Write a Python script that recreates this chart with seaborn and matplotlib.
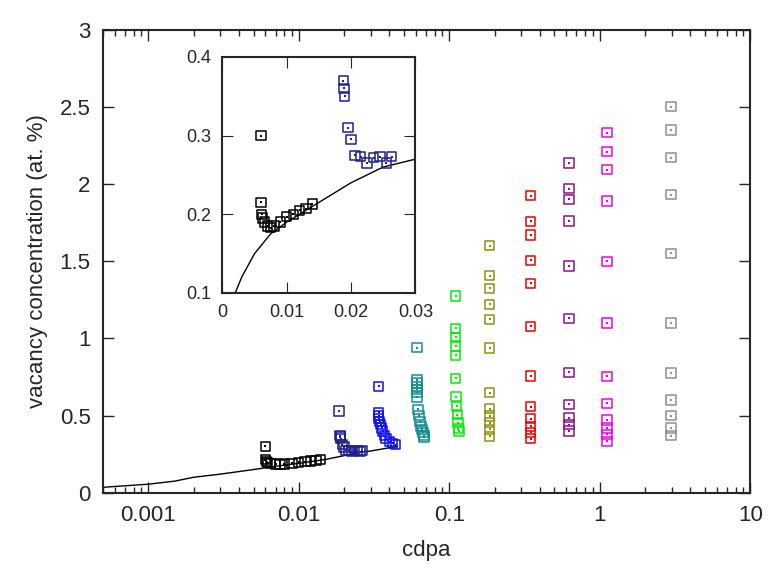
import matplotlib
matplotlib.use("Agg")
import matplotlib.pyplot as plt
import seaborn as sns
import numpy as np
import pandas as pd
from matplotlib.ticker import LogLocator, NullFormatter

sns.set_style("ticks")
plt.rcParams['font.family'] = ['Liberation Sans', 'DejaVu Sans']

# black group
black_x = [0.0060, 0.0060, 0.0061, 0.0062, 0.0065, 0.0070, 0.0075, 0.0080, 0.0090, 0.0100, 0.0110, 0.0120, 0.0130, 0.0140]
black_y = [0.300, 0.215, 0.200, 0.195, 0.190, 0.185, 0.183, 0.185, 0.190, 0.197, 0.200, 0.205, 0.207, 0.213]
# navy group
navy_x = [0.0185, 0.0188, 0.0189, 0.0190, 0.0195, 0.0200, 0.0206, 0.0215, 0.0225, 0.0235, 0.0245, 0.0255, 0.0263]
navy_y = [0.530, 0.370, 0.360, 0.350, 0.310, 0.295, 0.275, 0.273, 0.265, 0.272, 0.273, 0.265, 0.273]
# later groups
blue_x = [0.034, 0.034, 0.034, 0.034, 0.0345, 0.035, 0.0355, 0.036, 0.037, 0.038, 0.040, 0.042, 0.044]
blue_y = [0.69, 0.52, 0.50, 0.48, 0.46, 0.44, 0.42, 0.40, 0.37, 0.35, 0.33, 0.32, 0.31]
teal_x = [0.061, 0.061, 0.061, 0.061, 0.061, 0.061, 0.061, 0.062, 0.063, 0.064, 0.065, 0.066, 0.067, 0.068, 0.068]
teal_y = [0.94, 0.73, 0.71, 0.69, 0.67, 0.65, 0.62, 0.54, 0.50, 0.46, 0.43, 0.41, 0.39, 0.37, 0.36]
green_x = [0.110, 0.110, 0.110, 0.110, 0.110, 0.110, 0.111, 0.112, 0.113, 0.114, 0.115, 0.116]
green_y = [1.275, 1.065, 1.006, 0.95, 0.89, 0.742, 0.623, 0.56, 0.506, 0.454, 0.415, 0.40]
olive_x = [0.186] * 12
olive_y = [1.60, 1.405, 1.325, 1.22, 1.123, 0.937, 0.649, 0.545, 0.496, 0.454, 0.41, 0.366]
red_x = [0.348] * 12
red_y = [1.924, 1.758, 1.669, 1.506, 1.357, 1.078, 0.755, 0.558, 0.48, 0.43, 0.39, 0.35]
purple_x = [0.625] * 11
purple_y = [2.136, 1.97, 1.90, 1.76, 1.468, 1.13, 0.779, 0.573, 0.487, 0.44, 0.40]
magenta_x = [1.12] * 12
magenta_y = [2.333, 2.21, 2.093, 1.89, 1.50, 1.10, 0.753, 0.578, 0.47, 0.42, 0.377, 0.333]
grey_x = [2.98] * 11
grey_y = [2.50, 2.35, 2.17, 1.93, 1.55, 1.10, 0.775, 0.60, 0.50, 0.42, 0.37]

# model curve
curve_x = [0.0005, 0.001, 0.0015, 0.002, 0.003, 0.005, 0.0075, 0.01, 0.015, 0.02, 0.025, 0.03, 0.045]
curve_y = [0.035, 0.055, 0.075, 0.10, 0.12, 0.15, 0.175, 0.19, 0.215, 0.24, 0.26, 0.27, 0.30]

groups = [
    (black_x, black_y, "black"), (navy_x, navy_y, "#1f1f8f"), (blue_x, blue_y, "#1010ee"),
    (teal_x, teal_y, "#109090"), (green_x, green_y, "#00ee00"), (olive_x, olive_y, "#909010"),
    (red_x, red_y, "#ee0000"), (purple_x, purple_y, "#901090"), (magenta_x, magenta_y, "#ee00ee"),
    (grey_x, grey_y, "#909090"),
]

fig = plt.figure(figsize=(7.75, 5.81), dpi=100)
ax = fig.add_axes([0.133, 0.152, 0.835, 0.797])

def draw(a, gs, curve_df):
    sns.lineplot(data=curve_df, x="x", y="y", ax=a, color="black", lw=1.0, sort=False)
    for gx, gy, col in gs:
        df = pd.DataFrame({"x": gx, "y": gy})
        sns.scatterplot(data=df, x="x", y="y", ax=a, marker="s", s=45, facecolor="none",
                        edgecolor=col, linewidth=1.1, zorder=3)
        sns.scatterplot(data=df, x="x", y="y", ax=a, marker="s", s=2, color=col,
                        linewidth=0, zorder=3)

cdf = pd.DataFrame({"x": curve_x, "y": curve_y})
draw(ax, groups, cdf)
ax.set_xscale("log")
ax.set_xlim(0.0005, 10)
ax.set_ylim(0, 3)
ax.set_xticks([0.001, 0.01, 0.1, 1, 10])
ax.set_xticklabels(["0.001", "0.01", "0.1", "1", "10"])
ax.xaxis.set_minor_locator(LogLocator(base=10, subs=np.arange(2, 10)))
ax.xaxis.set_minor_formatter(NullFormatter())
ax.set_yticks([0, 0.5, 1, 1.5, 2, 2.5, 3])
ax.set_yticklabels(["0", "0.5", "1", "1.5", "2", "2.5", "3"])
ax.tick_params(which="both", direction="in", top=True, right=True, labelsize=16, pad=9)
ax.tick_params(which="major", length=8, width=1)
ax.tick_params(which="minor", length=4, width=1)
ax.set_xlabel("cdpa", fontsize=16, labelpad=10)
ax.set_ylabel("vacancy concentration (at. %)", fontsize=16, labelpad=8)
for s in ax.spines.values():
    s.set_linewidth(1.5)

axin = fig.add_axes([0.287, 0.496, 0.249, 0.406])
draw(axin, groups[:2], cdf)
axin.set_xlim(0, 0.03)
axin.set_ylim(0.1, 0.4)
axin.set_xticks([0, 0.01, 0.02, 0.03])
axin.set_xticklabels(["0", "0.01", "0.02", "0.03"])
axin.set_yticks([0.1, 0.2, 0.3, 0.4])
axin.set_yticklabels(["0.1", "0.2", "0.3", "0.4"])
axin.tick_params(direction="in", top=True, right=True, labelsize=13, length=8, pad=8)
axin.set_xlabel("")
axin.set_ylabel("")
for s in axin.spines.values():
    s.set_linewidth(1.5)

fig.savefig("out.png", dpi=100)
